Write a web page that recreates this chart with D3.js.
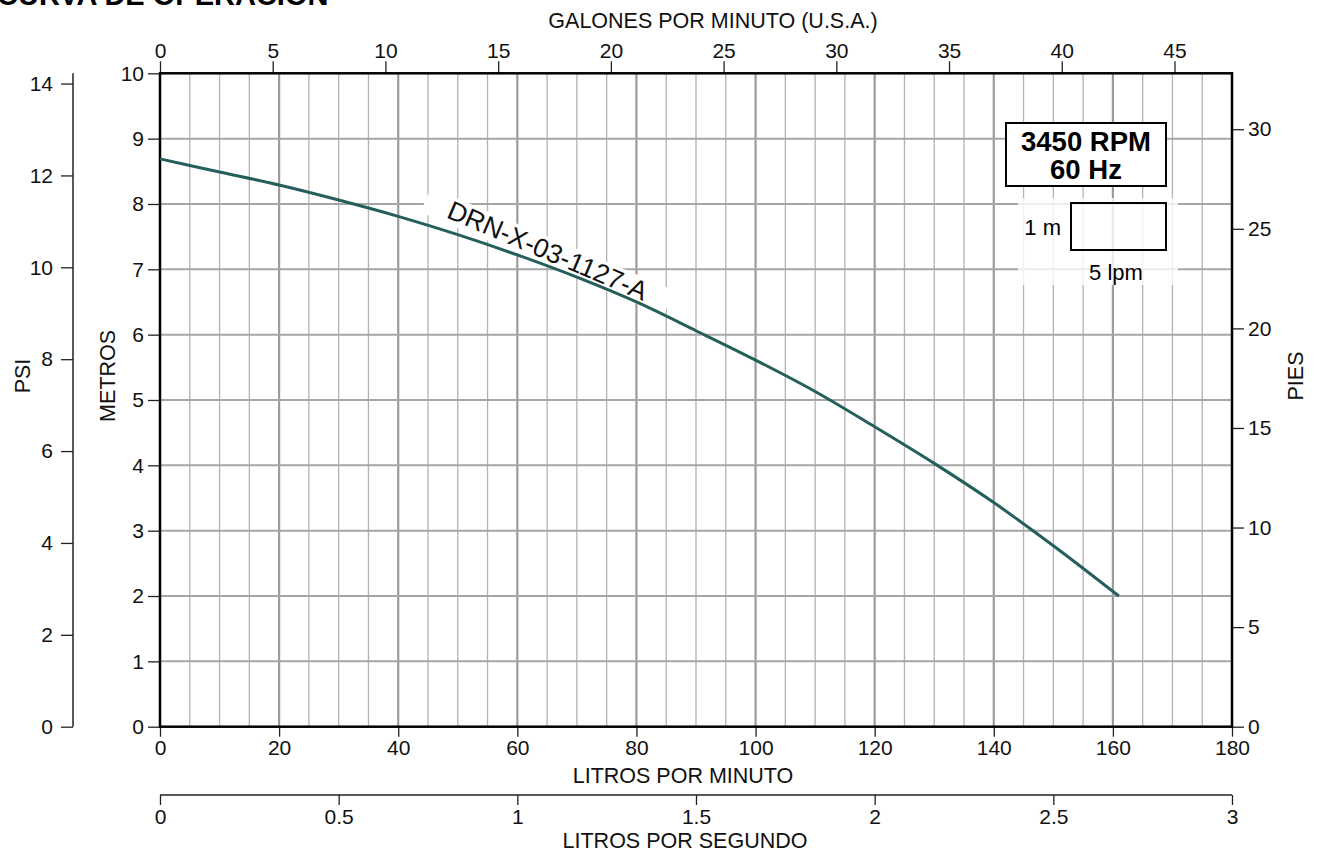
<!DOCTYPE html>
<html><head><meta charset="utf-8">
<script src="https://cdn.jsdelivr.net/npm/d3@7"></script>
<style>
html,body{margin:0;padding:0;background:#fff;}
svg{display:block;font-family:"Liberation Sans",Arial,sans-serif;}
</style></head>
<body>
<svg id="c" width="1317" height="852"></svg>
<script>
// ---- data ----
const flowLpm = [0,10,20,30,40,50,60,70,80,90,100,110,120,130,140,150,161];
const headM   = [8.69,8.49,8.29,8.06,7.81,7.53,7.22,6.88,6.50,6.06,5.61,5.13,4.59,4.03,3.43,2.77,2.0];
const lpmTicks = [0,20,40,60,80,100,120,140,160,180];
const meterTicks = [0,1,2,3,4,5,6,7,8,9,10];
const gpmTicks = [0,5,10,15,20,25,30,35,40,45];
const lpsTicks = [0,0.5,1,1.5,2,2.5,3];
const psiTicks = [0,2,4,6,8,10,12,14];
const ftTicks = [0,5,10,15,20,25,30];
const modelName = "DRN-X-03-1127-A";
const speedLabels = ["3450 RPM","60 Hz"];

const svg = d3.select("#c");
const L=160, R=1232, T=73.3, B=726.7;
const FS = 21;
const x = d3.scaleLinear([0,180],[L,R]);
const y = d3.scaleLinear([0,10],[B,T]);
const gpm = d3.scaleLinear([0,180/3.78541],[L,R]);
const lps = d3.scaleLinear([0,3],[L,R]);
const psi = d3.scaleLinear([0,10/0.70307],[B,T]);
const ft = d3.scaleLinear([0,10/0.3048],[B,T]);

// title (clipped at top)
svg.append("text").attr("x",-3).attr("y",5).attr("font-weight","bold").attr("font-size",29).text("CURVA DE OPERACIÓN");

// grid
const g = svg.append("g");
const vx = d3.range(5,180,5);
g.selectAll("line.v").data(vx).join("line")
 .attr("x1",d=>x(d)).attr("x2",d=>x(d)).attr("y1",T).attr("y2",B)
 .attr("stroke",d=>d%20===0?"#9b9b9b":"#b3b3b3").attr("stroke-width",d=>d%20===0?2.2:1.3);
g.selectAll("line.h").data(d3.range(1,10)).join("line")
 .attr("x1",L).attr("x2",R).attr("y1",d=>y(d)).attr("y2",d=>y(d))
 .attr("stroke","#a6a6a6").attr("stroke-width",2);

function styleAxis(sel, size){
  sel.selectAll("text").attr("font-size",size).attr("fill","#111").attr("font-family","'Liberation Sans',Arial,sans-serif");
  sel.selectAll("line").attr("stroke","#222").attr("stroke-width",1.3);
  sel.select(".domain").remove();
}
// bottom LPM
svg.append("g").attr("transform",`translate(0,${B})`)
 .call(d3.axisBottom(x).tickValues(lpmTicks).tickSize(10).tickPadding(3).tickFormat(d3.format("d")))
 .call(s=>styleAxis(s,FS));
// left meters
svg.append("g").attr("transform",`translate(${L},0)`)
 .call(d3.axisLeft(y).tickValues(meterTicks).tickSize(12).tickPadding(4).tickFormat(d3.format("d")))
 .call(s=>styleAxis(s,FS));
// top GPM
svg.append("g").attr("transform",`translate(0,${T})`)
 .call(d3.axisTop(gpm).tickValues(gpmTicks).tickSize(12).tickPadding(3).tickFormat(d3.format("d")))
 .call(s=>styleAxis(s,FS));
// right feet
svg.append("g").attr("transform",`translate(${R},0)`)
 .call(d3.axisRight(ft).tickValues(ftTicks).tickSize(12).tickPadding(4).tickFormat(d3.format("d")))
 .call(s=>styleAxis(s,FS));
// PSI axis
const psiG = svg.append("g").attr("transform","translate(73,0)")
 .call(d3.axisLeft(psi).tickValues(psiTicks).tickSize(12).tickPadding(8).tickFormat(d3.format("d")))
 .call(s=>styleAxis(s,FS));
psiG.append("line").attr("x1",0).attr("x2",0).attr("y1",T).attr("y2",B).attr("stroke","#222").attr("stroke-width",1.5);
// LPS axis
const lpsG = svg.append("g").attr("transform","translate(0,795)")
 .call(d3.axisBottom(lps).tickValues(lpsTicks).tickSize(10).tickPadding(4).tickFormat(d=>String(d)))
 .call(s=>styleAxis(s,FS));
lpsG.append("line").attr("x1",L).attr("x2",R).attr("y1",0).attr("y2",0).attr("stroke","#222").attr("stroke-width",1.5);

// frame
svg.append("rect").attr("x",L).attr("y",T).attr("width",R-L).attr("height",B-T)
 .attr("fill","none").attr("stroke","#000").attr("stroke-width",2.5);

// axis titles
const t = (txt,xx,yy,rot)=>svg.append("text").attr("text-anchor","middle").attr("font-size",21.5).attr("fill","#111")
 .attr("transform",`translate(${xx},${yy})`+(rot?` rotate(${rot})`:"")).text(txt);
t("GALONES POR MINUTO (U.S.A.)",713,28);
t("LITROS POR MINUTO",683,783);
t("LITROS POR SEGUNDO",685,848);
t("PSI",30,376,-90);
t("METROS",115,376,-90);
t("PIES",1303,376,-90);

// legend
svg.append("rect").attr("x",1018).attr("y",198).attr("width",160).attr("height",87).attr("fill","#fff").attr("opacity",0.8);
svg.append("rect").attr("x",1006).attr("y",123).attr("width",160).attr("height",63).attr("fill","#fff").attr("stroke","#000").attr("stroke-width",2);
svg.selectAll("text.spd").data(speedLabels).join("text").attr("class","spd")
 .attr("x",1086).attr("y",(d,i)=>151+i*28).attr("text-anchor","middle").attr("font-weight","bold").attr("font-size",27.5).text(d=>d);
svg.append("rect").attr("x",1071).attr("y",203).attr("width",95).attr("height",47).attr("fill","none").attr("stroke","#000").attr("stroke-width",2);
svg.append("text").attr("x",1061).attr("y",235).attr("text-anchor","end").attr("font-size",22).text("1 m");
svg.append("text").attr("x",1116).attr("y",280).attr("text-anchor","middle").attr("font-size",22).text("5 lpm");

// curve
const pts = flowLpm.map((f,i)=>[f,headM[i]]);
const labPos = `translate(${x(64.5)},${y(7.05)-7}) rotate(23)`;
const lab = svg.append("g").attr("transform",labPos);
lab.append("rect").attr("x",-132).attr("y",-22).attr("width",264).attr("height",27).attr("fill","#fff");
svg.append("path").datum(pts).attr("fill","none").attr("stroke","#245f5c").attr("stroke-width",3)
 .attr("d",d3.line().x(d=>x(d[0])).y(d=>y(d[1])).curve(d3.curveMonotoneX));
svg.append("g").attr("transform",labPos)
 .append("text").attr("text-anchor","middle").attr("font-size",26.5).attr("fill","#111").text(modelName);
</script>
</body></html>
